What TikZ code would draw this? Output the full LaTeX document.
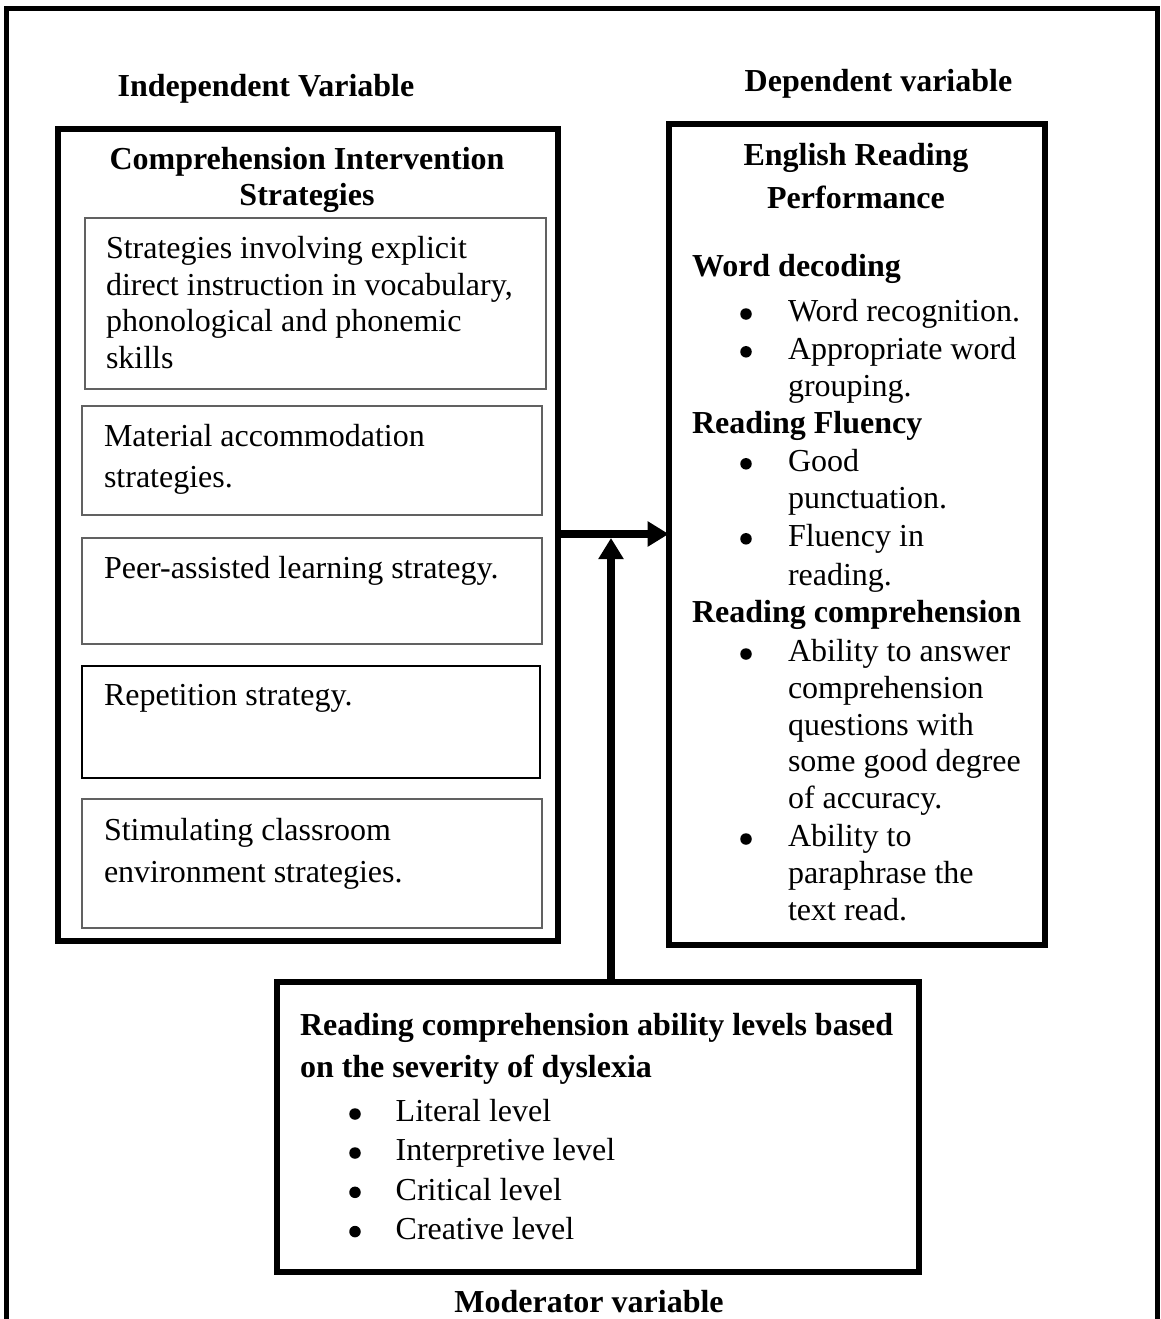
\documentclass[tikz,border=0pt]{standalone}
\usepackage{fontspec}
\setmainfont{Liberation Serif}
\usetikzlibrary{arrows.meta}
\begin{document}
\begin{tikzpicture}[x=1pt,y=-1pt,
  txt/.style={inner sep=0pt, outer sep=0pt, anchor=base west, font=\fontsize{32}{38}\selectfont},
  btxt/.style={txt, font=\fontsize{32}{38}\selectfont\bfseries},
  ctr/.style={anchor=base},
  dot/.style={circle, fill=black, inner sep=0pt, outer sep=0pt, minimum size=11.5pt},
  bigbox/.style={draw, line width=6pt, inner sep=0pt, outer sep=0pt, anchor=north west},
  subbox/.style={draw=black!62, line width=2pt, inner sep=0pt, outer sep=0pt, anchor=north west},
  arr/.style={line width=8pt, -{Triangle[length=21pt,width=24pt]}},
]
\useasboundingbox (0,0) rectangle (1160,1319);
\fill[white] (0,0) rectangle (1160,1319);
% outer frame
\draw[line width=5pt] (6.7,1319) -- (6.7,9) -- (1157.5,9) -- (1157.5,1319);

% headings
\node[btxt, ctr] (ivlabel) at (266,97) {Independent Variable};
\node[btxt, ctr] (dvlabel) at (878.5,91.7) {Dependent variable};
\node[btxt, ctr] (modlabel) at (589,1312) {Moderator variable};

% big boxes
\node[bigbox, minimum width=499.5pt, minimum height=812pt] (ivbox) at (58,129) {};
\node[bigbox, minimum width=375.8pt, minimum height=821pt] (dvbox) at (668.7,124) {};
\node[bigbox, minimum width=642.4pt, minimum height=289.5pt] (modbox) at (277,982) {};

% sub boxes of the independent variable
\node[subbox, minimum width=461.5pt, minimum height=171pt] (b1) at (84.5,218) {};
\node[subbox, minimum width=460pt, minimum height=109.5pt] (b2) at (82,405.5) {};
\node[subbox, minimum width=460.5pt, minimum height=106.5pt] (b3) at (81.5,537.5) {};
\node[subbox, draw=black, minimum width=458pt, minimum height=112pt] (b4) at (81.5,666) {};
\node[subbox, minimum width=460.5pt, minimum height=129pt] (b5) at (81.5,799) {};

% IV title
\node[btxt, ctr] (ivt1) at (307,169.5) {Comprehension Intervention};
\node[btxt, ctr] (ivt2) at (307,205.5) {Strategies};

% IV texts
\foreach \xx/\yy/\lbl [count=\i] in {
  106/258.3/{Strategies involving explicit},
  106/295/{direct instruction in vocabulary,},
  106/331.7/{phonological and phonemic},
  106/368.3/{skills},
  104/446.6/{Material accommodation},
  104/487.5/{strategies.},
  104/578/{Peer-assisted learning strategy.},
  104/705.8/{Repetition strategy.},
  104/840/{Stimulating classroom},
  104/882/{environment strategies.}}
  \node[txt] (iv\i) at (\xx,\yy) {\lbl};

% DV title
\node[btxt, ctr] (dvt1) at (856,165.5) {English Reading};
\node[btxt, ctr] (dvt2) at (856,208.3) {Performance};

% DV sub headings
\node[btxt] (dvh1) at (692,276.7) {Word decoding};
\node[btxt] (dvh2) at (692,433.5) {Reading Fluency};
\node[btxt] (dvh3) at (692,622.7) {Reading comprehension};

% DV items
\foreach \yy/\lbl [count=\i] in {
  321.7/{Word recognition.},
  359.5/{Appropriate word},
  396.5/{grouping.},
  471.5/{Good},
  508.5/{punctuation.},
  546.5/{Fluency in},
  585/{reading.},
  661.7/{Ability to answer},
  698/{comprehension},
  735/{questions with},
  771.7/{some good degree},
  808.3/{of accuracy.},
  846.7/{Ability to},
  883/{paraphrase the},
  920/{text read.}}
  \node[txt] (dvi\i) at (788,\yy) {\lbl};

\foreach \yy [count=\i] in {321.7,359.5,471.5,546.5,661.7,846.7}
  \node[dot] (dvb\i) at (746,\yy-7.7) {};

% moderator texts
\node[btxt] (mt1) at (300,1035) {Reading comprehension ability levels based};
\node[btxt] (mt2) at (300,1077.3) {on the severity of dyslexia};
\foreach \yy/\lbl [count=\i] in {
  1121.7/{Literal level},
  1160.7/{Interpretive level},
  1200/{Critical level},
  1239.3/{Creative level}}{
  \node[dot] (mb\i) at (355,\yy-7.7) {};
  \node[txt] (mi\i) at (395.7,\yy) {\lbl};
}

% connectors
\coordinate (hline) at (611,534);
\coordinate (vtip) at (611,538);
\draw[arr] (ivbox.east |- hline) -- (dvbox.west |- hline);
\draw[arr] (modbox.north -| vtip) -- (vtip);
\end{tikzpicture}
\end{document}
